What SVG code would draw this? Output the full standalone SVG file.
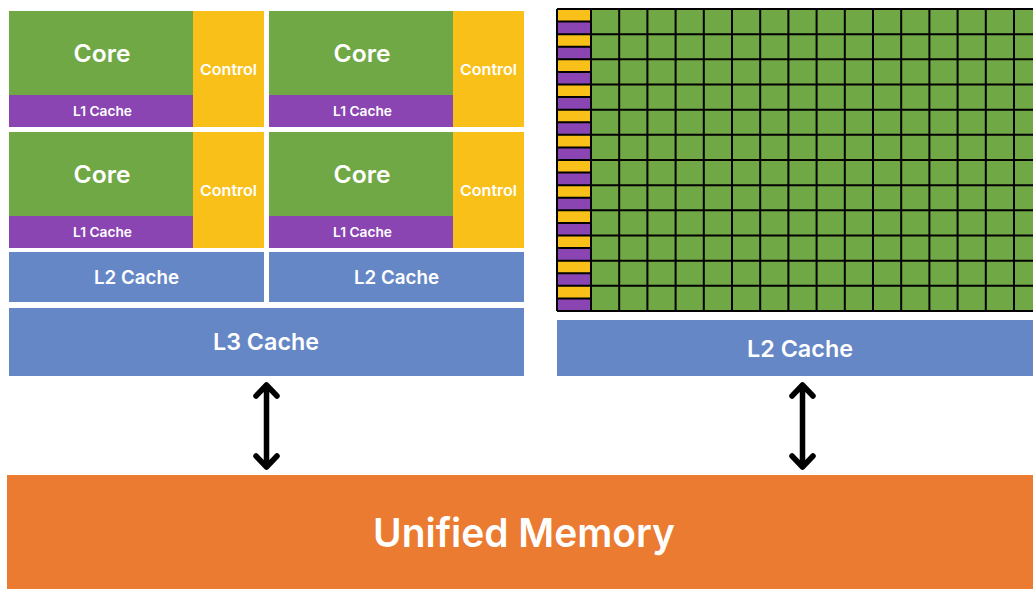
<svg xmlns="http://www.w3.org/2000/svg" width="1033" height="589" viewBox="0 0 1033 589">
<style>
.core{fill:#70A845}
.ctl{fill:#F8C019}
.l1{fill:#8A45B3}
.blue{fill:#6587C6}
.mem{fill:#EA7B31}
text{font-family:Inter,"Open Sans","Liberation Sans",sans-serif;font-weight:600;fill:#ffffff;text-anchor:middle}
.t-core{font-size:24px}
.t-ctl{font-size:15px}
.t-l1{font-size:13.5px}
.t-l2s{font-size:19px}
.t-big{font-size:23.5px}
.t-mem{font-size:40px}
.grid{stroke:#000;stroke-width:2;fill:none}
.arrow{stroke:#000;stroke-width:5.5;fill:none;stroke-linecap:round;stroke-linejoin:round}
</style>
<rect width="1033" height="589" fill="#ffffff"/>

<g id="cpu-core-1">
<rect class="core" x="9" y="11" width="184" height="84"/>
<rect class="l1" x="9" y="95" width="184" height="32"/>
<rect class="ctl" x="193" y="11" width="71" height="116"/>
<text class="t-core" x="102" y="62" textLength="57" lengthAdjust="spacingAndGlyphs">Core</text>
<text class="t-ctl" x="228.5" y="75" textLength="57" lengthAdjust="spacingAndGlyphs">Control</text>
<text class="t-l1" x="102.5" y="116" textLength="59" lengthAdjust="spacingAndGlyphs">L1 Cache</text>
</g>
<g id="cpu-core-2">
<rect class="core" x="269" y="11" width="184" height="84"/>
<rect class="l1" x="269" y="95" width="184" height="32"/>
<rect class="ctl" x="453" y="11" width="71" height="116"/>
<text class="t-core" x="362" y="62" textLength="57" lengthAdjust="spacingAndGlyphs">Core</text>
<text class="t-ctl" x="488.5" y="75" textLength="57" lengthAdjust="spacingAndGlyphs">Control</text>
<text class="t-l1" x="362.5" y="116" textLength="59" lengthAdjust="spacingAndGlyphs">L1 Cache</text>
</g>
<g id="cpu-core-3">
<rect class="core" x="9" y="132" width="184" height="84"/>
<rect class="l1" x="9" y="216" width="184" height="32"/>
<rect class="ctl" x="193" y="132" width="71" height="116"/>
<text class="t-core" x="102" y="183" textLength="57" lengthAdjust="spacingAndGlyphs">Core</text>
<text class="t-ctl" x="228.5" y="196" textLength="57" lengthAdjust="spacingAndGlyphs">Control</text>
<text class="t-l1" x="102.5" y="237" textLength="59" lengthAdjust="spacingAndGlyphs">L1 Cache</text>
</g>
<g id="cpu-core-4">
<rect class="core" x="269" y="132" width="184" height="84"/>
<rect class="l1" x="269" y="216" width="184" height="32"/>
<rect class="ctl" x="453" y="132" width="71" height="116"/>
<text class="t-core" x="362" y="183" textLength="57" lengthAdjust="spacingAndGlyphs">Core</text>
<text class="t-ctl" x="488.5" y="196" textLength="57" lengthAdjust="spacingAndGlyphs">Control</text>
<text class="t-l1" x="362.5" y="237" textLength="59" lengthAdjust="spacingAndGlyphs">L1 Cache</text>
</g>
<g id="cpu-l2-left">
<rect class="blue" x="9" y="252" width="255" height="50"/>
<text class="t-l2s" x="136.5" y="284" textLength="85" lengthAdjust="spacingAndGlyphs">L2 Cache</text>
</g>
<g id="cpu-l2-right">
<rect class="blue" x="269" y="252" width="255" height="50"/>
<text class="t-l2s" x="396.5" y="284" textLength="85" lengthAdjust="spacingAndGlyphs">L2 Cache</text>
</g>
<g id="cpu-l3">
<rect class="blue" x="9" y="308" width="515" height="68"/>
<text class="t-big" x="266" y="350" textLength="106" lengthAdjust="spacingAndGlyphs">L3 Cache</text>
</g>

<g id="gpu-cores">
<rect class="core" x="591" y="9" width="442" height="302"/>
<rect class="ctl" x="557" y="9" width="34" height="302"/>
<g class="l1">
<rect x="557" y="21.58" width="34" height="12.58"/>
<rect x="557" y="46.75" width="34" height="12.58"/>
<rect x="557" y="71.92" width="34" height="12.58"/>
<rect x="557" y="97.08" width="34" height="12.58"/>
<rect x="557" y="122.25" width="34" height="12.58"/>
<rect x="557" y="147.42" width="34" height="12.58"/>
<rect x="557" y="172.58" width="34" height="12.58"/>
<rect x="557" y="197.75" width="34" height="12.58"/>
<rect x="557" y="222.92" width="34" height="12.58"/>
<rect x="557" y="248.08" width="34" height="12.58"/>
<rect x="557" y="273.25" width="34" height="12.58"/>
<rect x="557" y="298.42" width="34" height="12.58"/>
</g>
<path class="grid" d="M557 9H1033M557 34.17H1033M557 59.33H1033M557 84.5H1033M557 109.67H1033M557 134.83H1033M557 160H1033M557 185.17H1033M557 210.33H1033M557 235.5H1033M557 260.67H1033M557 285.83H1033M557 311H1033"/>
<path class="grid" stroke-width="1.5" d="M557 21.58H591M557 46.75H591M557 71.92H591M557 97.08H591M557 122.25H591M557 147.42H591M557 172.58H591M557 197.75H591M557 222.92H591M557 248.08H591M557 273.25H591M557 298.42H591"/>
<path class="grid" d="M557 9V311M591 9V311M619.2 9V311M647.4 9V311M675.6 9V311M703.8 9V311M732 9V311M760.2 9V311M788.4 9V311M816.6 9V311M844.8 9V311M873 9V311M901.2 9V311M929.4 9V311M957.6 9V311M985.8 9V311M1014 9V311"/>
</g>
<g id="gpu-l2">
<rect class="blue" x="557" y="320" width="476" height="56"/>
<text class="t-big" x="800" y="357" textLength="106" lengthAdjust="spacingAndGlyphs">L2 Cache</text>
</g>

<g id="memory">
<rect class="mem" x="7" y="475" width="1026" height="114"/>
<text class="t-mem" x="524" y="547" textLength="302" lengthAdjust="spacingAndGlyphs">Unified Memory</text>
</g>

<g id="connectors">
<path class="arrow" d="M266.5 385V467M256 396L266.5 385L277 396M256 456L266.5 467L277 456"/>
<path class="arrow" d="M802.5 385V467M792 396L802.5 385L813 396M792 456L802.5 467L813 456"/>
</g>
</svg>
